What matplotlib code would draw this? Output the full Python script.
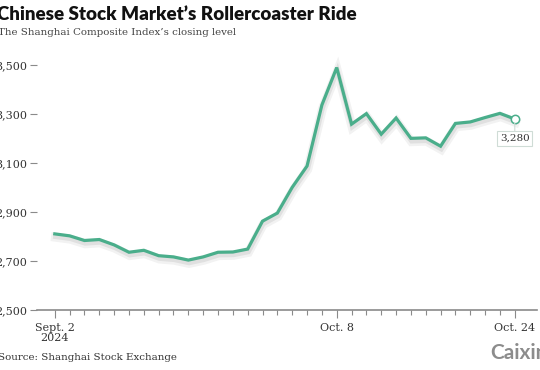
import matplotlib
matplotlib.use("Agg")
import matplotlib.pyplot as plt
import matplotlib.patheffects as pe

# Shanghai Composite closing levels, one per trading day
dates = ["Sept. 2", "Sept. 3", "Sept. 4", "Sept. 5", "Sept. 6",
         "Sept. 9", "Sept. 10", "Sept. 11", "Sept. 12", "Sept. 13",
         "Sept. 18", "Sept. 19", "Sept. 20",
         "Sept. 23", "Sept. 24", "Sept. 25", "Sept. 26", "Sept. 27",
         "Sept. 30",
         "Oct. 8", "Oct. 9", "Oct. 10", "Oct. 11",
         "Oct. 14", "Oct. 15", "Oct. 16", "Oct. 17", "Oct. 18",
         "Oct. 21", "Oct. 22", "Oct. 23", "Oct. 24"]
closes = [2811, 2803, 2784, 2788, 2766,
          2736, 2744, 2722, 2717, 2704,
          2717, 2736, 2737,
          2749, 2863, 2896, 3001, 3088,
          3337,
          3490, 3259, 3302, 3218,
          3284, 3201, 3203, 3169, 3262,
          3268, 3286, 3303, 3280]
labelled = {"Sept. 2": "Sept. 2\n2024", "Oct. 8": "Oct. 8", "Oct. 24": "Oct. 24"}
yticks = [2500, 2700, 2900, 3100, 3300, 3500]

GREEN = "#4aae8b"
GREY = "#8a8a8a"
SERIF = "DejaVu Serif"

fig = plt.figure(figsize=(5.4, 3.7), dpi=100)
ax = fig.add_axes([0.0685, 0.162, 0.926, 0.662])

x = list(range(len(closes)))
# soft drop shadow under the line
shadow = [pe.SimpleLineShadow(offset=(0.5, -2.4), shadow_color="#000000", alpha=0.05, linewidth=6.5),
          pe.SimpleLineShadow(offset=(0.5, -2.0), shadow_color="#000000", alpha=0.07, linewidth=3.5),
          pe.Normal()]
ax.plot(x, closes, color=GREEN, linewidth=2.3, solid_joinstyle="miter",
        clip_on=False, zorder=3, path_effects=shadow)
ax.plot(x[-1], closes[-1], "o", markersize=6, markerfacecolor="white",
        markeredgecolor=GREEN, markeredgewidth=1.1, zorder=4, clip_on=False)
ax.annotate(f"{closes[-1]:,}", xy=(x[-1], closes[-1]), xytext=(0, -14),
            textcoords="offset points", ha="center", va="center",
            fontsize=7.5, family=SERIF, color="#333333",
            bbox=dict(boxstyle="square,pad=0.25", fc="white", ec="#cfdcd6", lw=0.8),
            arrowprops=dict(arrowstyle="-", color="#cfdcd6", lw=0.8,
                            shrinkA=0, shrinkB=3), zorder=5)

ax.set_xlim(-1.2, len(closes) + 0.5)
ax.set_ylim(2500, 3500)

for s in ["top", "right", "left"]:
    ax.spines[s].set_visible(False)
ax.spines["bottom"].set_color(GREY)
ax.spines["bottom"].set_linewidth(1.2)

ax.set_yticks(yticks)
ax.set_yticklabels([f"{v:,}" for v in yticks], family=SERIF, fontsize=8, color="#333333")
ax.tick_params(axis="y", length=5, width=0.8, color=GREY, pad=2)

major = [i for i, d in enumerate(dates) if d in labelled]
ax.set_xticks(major)
ax.set_xticklabels([labelled[dates[i]] for i in major], family=SERIF,
                   fontsize=8, color="#333333", linespacing=1.1)
ax.set_xticks(x, minor=True)
ax.tick_params(axis="x", which="major", length=6, width=0.8, color=GREY, pad=3)
ax.tick_params(axis="x", which="minor", length=3.5, width=0.8, color=GREY)

fig.text(-0.006, 0.985, "Chinese Stock Market\u2019s Rollercoaster Ride", family="Lato",
         weight="heavy", fontsize=13.5, color="#111111", va="top")
fig.text(-0.004, 0.925, "The Shanghai Composite Index\u2019s closing level", family=SERIF,
         fontsize=7.4, color="#444444", va="top")
fig.text(-0.004, 0.022, "Source: Shanghai Stock Exchange", family=SERIF,
         fontsize=7.4, color="#333333", va="bottom")
fig.text(1.015, 0.02, "Caixin", family="Lato", weight="bold", fontsize=15,
         color="#8c8c8c", ha="right", va="bottom")

fig.savefig("out.png", dpi=100)
